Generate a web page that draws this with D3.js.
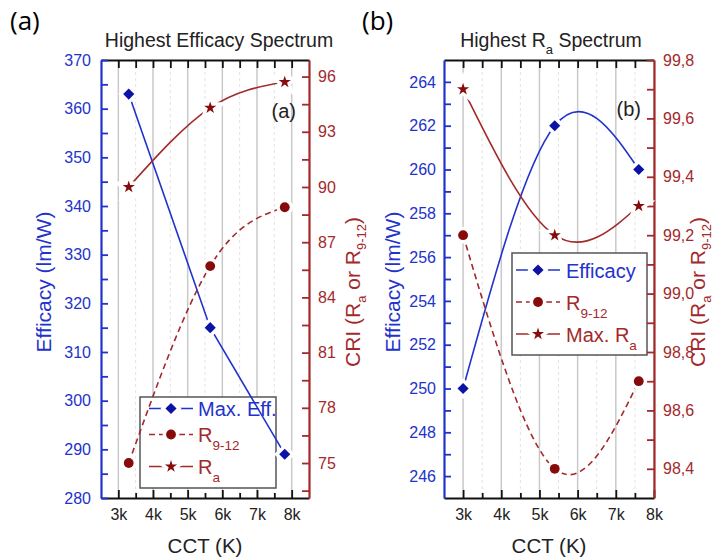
<!DOCTYPE html>
<html>
<head>
<meta charset="utf-8">
<script src="https://cdn.jsdelivr.net/npm/d3@7"></script>
<style>
  body { margin: 0; background: #fff; }
  svg { font-family: "Liberation Sans", Arial, sans-serif; }
</style>
</head>
<body>
<div id="chart"></div>
<script>
// panel (a): highest efficacy spectrum
var cctA = [3300, 5650, 7800];
var effA = [363, 315, 289];
var r912A = [75, 85.7, 88.9];
var raA = [90, 94.3, 95.7];

// panel (b): highest Ra spectrum
var cctB = [3000, 5400, 7600];
var effB = [250, 262, 260];
var r912B = [99.2, 98.4, 98.7];
var raB = [99.7, 99.2, 99.3];

var blue = "#2233cc", navy = "#0b12a6", red = "#a3292b", darkRed = "#870b0b", ink = "#222";

var svg = d3.select('#chart').append('svg')
    .attr('width', 717)
    .attr('height', 558);

// text with subscripts: parts = ["text", {sub: "a"}, ...]
function rich(textSel, parts, subSize, shift) {
    var down = false;
    parts.forEach(function (p) {
        var t = textSel.append('tspan');
        if (typeof p === 'string') {
            t.text(p);
            if (down) { t.attr('dy', -shift); down = false; }
        } else {
            t.text(p.sub).attr('font-size', subSize).attr('dy', shift);
            down = true;
        }
    });
    return textSel;
}

function drawPanel(p) {
    var g = svg.append('g');

    var x = d3.scaleLinear().domain(p.xDomain).range([p.x0, p.x1]);
    var yL = d3.scaleLinear().domain(p.yL).range([p.y1, p.y0]);
    var yR = d3.scaleLinear().domain(p.yR).range([p.y1, p.y0]);

    var majorX = d3.range(3000, 8001, 1000);
    var minorX = d3.range(3500, p.xDomain[1], 1000);

    // grid
    g.append('g').selectAll('line').data(minorX).join('line')
        .attr('x1', function (d) { return x(d); }).attr('x2', function (d) { return x(d); })
        .attr('y1', p.y0).attr('y2', p.y1)
        .attr('stroke', '#e2e2e2').attr('stroke-width', 1).attr('stroke-dasharray', '3,3');
    g.append('g').selectAll('line').data(majorX).join('line')
        .attr('x1', function (d) { return x(d); }).attr('x2', function (d) { return x(d); })
        .attr('y1', p.y0).attr('y2', p.y1)
        .attr('stroke', '#c9c9c9').attr('stroke-width', 1.5);

    // legend box (hides grid)
    g.append('rect')
        .attr('x', p.legend.x).attr('y', p.legend.y)
        .attr('width', p.legend.w).attr('height', p.legend.h)
        .attr('fill', '#fff').attr('stroke', '#555').attr('stroke-width', 1.5);

    // top axis (ticks only)
    var topTicks = d3.range(3000, p.xDomain[1], 500);
    g.append('g').attr('transform', 'translate(0,' + p.y0 + ')')
        .call(d3.axisTop(x).tickValues(topTicks).tickSize(-8).tickSizeOuter(0).tickFormat(''))
        .call(function (s) {
            s.select('.domain').attr('stroke', '#111').attr('stroke-width', 1.8);
            s.selectAll('.tick line').attr('stroke', '#111').attr('stroke-width', 1.8);
        });

    // bottom axis
    g.append('g').attr('transform', 'translate(0,' + p.y1 + ')')
        .call(d3.axisBottom(x).tickValues(minorX).tickSize(-5).tickSizeOuter(0).tickFormat(''))
        .call(function (s) {
            s.select('.domain').remove();
            s.selectAll('.tick line').attr('stroke', '#111').attr('stroke-width', 1.8);
        });
    g.append('g').attr('transform', 'translate(0,' + p.y1 + ')')
        .call(d3.axisBottom(x).tickValues(majorX).tickSize(-8).tickSizeOuter(0).tickPadding(11)
            .tickFormat(function (d) { return d / 1000 + 'k'; }))
        .call(function (s) {
            s.select('.domain').attr('stroke', '#111').attr('stroke-width', 1.8);
            s.selectAll('.tick line').attr('stroke', '#111').attr('stroke-width', 1.8);
            s.selectAll('.tick text').attr('fill', ink).attr('font-size', 16)
                .attr('font-family', '"Liberation Sans", Arial, sans-serif');
        });

    // left axis
    g.append('g').attr('transform', 'translate(' + p.x0 + ',0)')
        .call(d3.axisLeft(yL).tickValues(p.yLMinor).tickSize(-7).tickFormat(''))
        .call(function (s) {
            s.select('.domain').remove();
            s.selectAll('.tick line').attr('stroke', blue).attr('stroke-width', 1.8);
        });
    g.append('g').attr('transform', 'translate(' + p.x0 + ',0)')
        .call(d3.axisLeft(yL).tickValues(p.yLMajor).tickSize(-7).tickSizeOuter(0).tickPadding(p.padL)
            .tickFormat(d3.format('d')))
        .call(function (s) {
            s.select('.domain').attr('stroke', blue).attr('stroke-width', 2.2);
            s.selectAll('.tick line').attr('stroke', blue).attr('stroke-width', 1.8);
            s.selectAll('.tick text').attr('fill', blue).attr('font-size', 16)
                .attr('font-family', '"Liberation Sans", Arial, sans-serif');
        });

    // right axis
    g.append('g').attr('transform', 'translate(' + p.x1 + ',0)')
        .call(d3.axisRight(yR).tickValues(p.yRMinor).tickSize(-7).tickFormat(''))
        .call(function (s) {
            s.select('.domain').remove();
            s.selectAll('.tick line').attr('stroke', red).attr('stroke-width', 1.8);
        });
    g.append('g').attr('transform', 'translate(' + p.x1 + ',0)')
        .call(d3.axisRight(yR).tickValues(p.yRMajor).tickSize(-7).tickSizeOuter(0).tickPadding(9)
            .tickFormat(p.rFmt))
        .call(function (s) {
            s.select('.domain').attr('stroke', red).attr('stroke-width', 2.2);
            s.selectAll('.tick line').attr('stroke', red).attr('stroke-width', 1.8);
            s.selectAll('.tick text').attr('fill', red).attr('font-size', 16)
                .attr('font-family', '"Liberation Sans", Arial, sans-serif');
        });

    // series
    var series = [
        { xs: p.cct, ys: p.eff, y: yL, color: blue, mark: navy, sym: 'diamond', dash: null, curve: p.effCurve },
        { xs: p.cct, ys: p.r912, y: yR, color: red, mark: darkRed, sym: 'circle', dash: '6,4', curve: d3.curveNatural },
        { xs: p.cct, ys: p.ra, y: yR, color: red, mark: darkRed, sym: 'star', dash: null, curve: d3.curveNatural }
    ];

    function symPath(name) {
        if (name === 'diamond') return d3.symbol(d3.symbolSquare, 62)();
        if (name === 'circle') return d3.symbol(d3.symbolCircle, 76)();
        return d3.symbol(d3.symbolStar, 46)();
    }
    function symTransform(name, cx, cy) {
        return 'translate(' + cx + ',' + cy + ')' + (name === 'diamond' ? ' rotate(45)' : '');
    }

    series.forEach(function (s) {
        var pts = s.xs.map(function (v, i) { return [x(v), s.y(s.ys[i])]; });
        g.append('path')
            .attr('d', d3.line().curve(s.curve)(pts))
            .attr('fill', 'none').attr('stroke', s.color).attr('stroke-width', 1.6)
            .attr('stroke-dasharray', s.dash);
    });
    series.forEach(function (s) {
        s.xs.forEach(function (v, i) {
            var cx = x(v), cy = s.y(s.ys[i]);
            g.append('path').attr('d', symPath(s.sym)).attr('transform', symTransform(s.sym, cx, cy))
                .attr('fill', '#fff').attr('stroke', '#fff').attr('stroke-width', 7);
        });
    });
    series.forEach(function (s) {
        s.xs.forEach(function (v, i) {
            var cx = x(v), cy = s.y(s.ys[i]);
            g.append('path').attr('d', symPath(s.sym)).attr('transform', symTransform(s.sym, cx, cy))
                .attr('fill', s.mark);
        });
    });

    // legend entries
    var L = p.legend;
    p.legendItems.forEach(function (it, i) {
        var s = series[it.idx], ly = L.rows[i];
        g.append('line').attr('x1', L.lx0).attr('x2', L.lx1).attr('y1', ly).attr('y2', ly)
            .attr('stroke', s.color).attr('stroke-width', 1.6).attr('stroke-dasharray', s.dash);
        g.append('path').attr('d', symPath(s.sym)).attr('transform', symTransform(s.sym, L.mx, ly))
            .attr('fill', '#fff').attr('stroke', '#fff').attr('stroke-width', 7);
        g.append('path').attr('d', symPath(s.sym)).attr('transform', symTransform(s.sym, L.mx, ly))
            .attr('fill', s.mark);
        rich(g.append('text').attr('x', L.tx).attr('y', ly + 7.5)
            .attr('font-size', 20).attr('fill', s.color === blue ? blue : red), it.parts, 13.5, 8);
    });

    // titles and labels
    rich(g.append('text').attr('x', p.titleX).attr('y', 47).attr('text-anchor', 'middle')
        .attr('font-size', 19.5).attr('fill', ink), p.title, 13, 7);

    g.append('text').attr('x', p.innerX).attr('y', p.innerY).attr('text-anchor', 'end')
        .attr('font-size', 20).attr('fill', ink).text(p.inner);

    g.append('text').attr('x', p.outerX).attr('y', 30)
        .attr('font-family', '"Open Sans", sans-serif').attr('font-size', 26).attr('fill', '#000')
        .text(p.outer);

    g.append('text').attr('x', (p.x0 + p.x1) / 2).attr('y', 553).attr('text-anchor', 'middle')
        .attr('font-size', 20.5).attr('fill', ink).text('CCT (K)');

    g.append('text').attr('transform', 'translate(' + p.effLabelX + ',282) rotate(-90)')
        .attr('text-anchor', 'middle').attr('font-size', 21).attr('fill', blue)
        .text('Efficacy (lm/W)');

    rich(g.append('text').attr('transform', 'translate(' + p.criLabelX + ',292) rotate(-90)')
        .attr('text-anchor', 'middle').attr('font-size', 21).attr('fill', red),
        ['CRI (R', { sub: 'a' }, ' or R', { sub: '9-12' }, ')'], 13, 6);
}

drawPanel({
    x0: 101, x1: 309, y0: 60, y1: 498,
    xDomain: [2500, 8500],
    yL: [280, 370], yR: [73.1, 96.9],
    yLMajor: d3.range(280, 371, 10), yLMinor: d3.range(285, 370, 10),
    yRMajor: d3.range(75, 97, 3), yRMinor: d3.range(73.5, 96.9, 3),
    padL: 10,
    rFmt: d3.format('d'),
    cct: cctA, eff: effA, r912: r912A, ra: raA,
    effCurve: d3.curveLinear,
    title: ['Highest Efficacy Spectrum'], titleX: 219,
    inner: '(a)', innerX: 296, innerY: 118,
    outer: '(a)', outerX: 10,
    effLabelX: 51, criLabelX: 360,
    legend: { x: 140, y: 397, w: 136, h: 91, rows: [408.5, 434.5, 466.5], lx0: 149, lx1: 193, mx: 171, tx: 198 },
    legendItems: [
        { idx: 0, parts: ['Max. Eff.'] },
        { idx: 1, parts: ['R', { sub: '9-12' }] },
        { idx: 2, parts: ['R', { sub: 'a' }] }
    ]
});

drawPanel({
    x0: 444, x1: 654, y0: 60, y1: 498,
    xDomain: [2500, 8000],
    yL: [245, 265], yR: [98.3, 99.8],
    yLMajor: d3.range(246, 265, 2), yLMinor: d3.range(247, 265, 2),
    yRMajor: d3.range(984, 999, 2).map(function (v) { return v / 10; }),
    yRMinor: d3.range(985, 998, 2).map(function (v) { return v / 10; }),
    padL: 8,
    rFmt: function (d) { return d3.format('.1f')(d).replace('.', ','); },
    cct: cctB, eff: effB, r912: r912B, ra: raB,
    effCurve: d3.curveNatural,
    title: ['Highest R', { sub: 'a' }, ' Spectrum'], titleX: 551,
    inner: '(b)', innerX: 641, innerY: 116,
    outer: '(b)', outerX: 362,
    effLabelX: 400, criLabelX: 705,
    legend: { x: 512, y: 253, w: 135, h: 102, rows: [270, 302, 334], lx0: 516, lx1: 560, mx: 538, tx: 566 },
    legendItems: [
        { idx: 0, parts: ['Efficacy'] },
        { idx: 1, parts: ['R', { sub: '9-12' }] },
        { idx: 2, parts: ['Max. R', { sub: 'a' }] }
    ]
});
</script>
</body>
</html>
